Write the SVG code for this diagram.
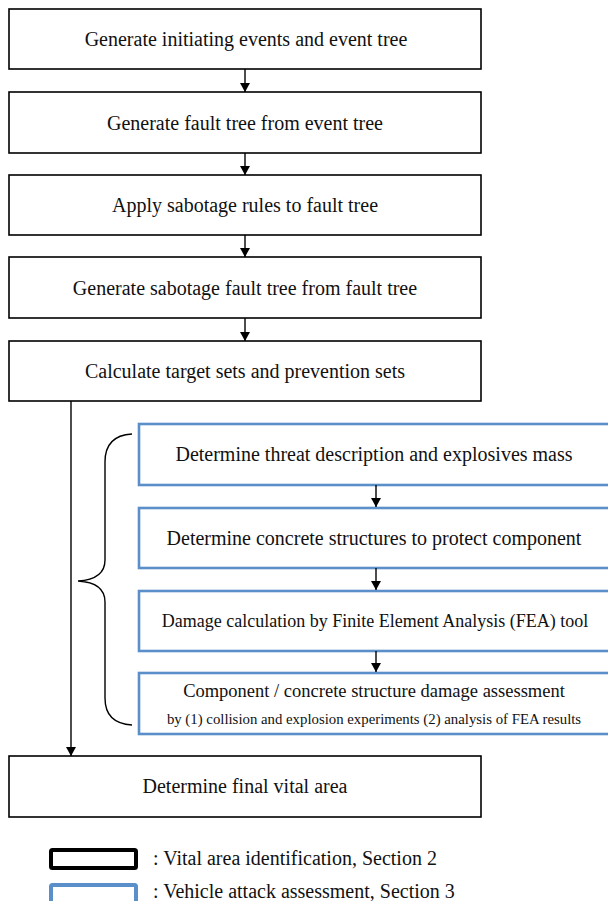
<svg xmlns="http://www.w3.org/2000/svg" width="608" height="901" viewBox="0 0 608 901">
<defs>
<marker id="arr" markerWidth="10" markerHeight="10" refX="9" refY="5" orient="auto" markerUnits="userSpaceOnUse" viewBox="0 0 10 10">
<path d="M0,0 L9,5 L0,10 Z" fill="#000"/>
</marker>
<style>
.b{fill:#fff;stroke:#000;stroke-width:1.6}
.u{fill:#fff;stroke:#5b8fc9;stroke-width:2.6}
.t{font-family:"Liberation Serif","Times New Roman",serif;fill:#111;text-anchor:middle}
.m{font-size:20px}
.s{text-anchor:start}
.c{stroke:#000;stroke-width:1.4;fill:none}
</style>
</defs>

<g id="n1"><rect class="b" x="9" y="9" width="472" height="60"/><text class="t m" x="246" y="46">Generate initiating  events and event tree</text></g>
<g id="n2"><rect class="b" x="9" y="92" width="472" height="61"/><text class="t m" x="245" y="130">Generate fault tree from event tree</text></g>
<g id="n3"><rect class="b" x="9" y="175" width="472" height="60"/><text class="t m" x="245" y="212">Apply sabotage rules to fault tree</text></g>
<g id="n4"><rect class="b" x="9" y="257" width="472" height="61"/><text class="t m" x="245" y="295">Generate sabotage fault tree from fault tree</text></g>
<g id="n5"><rect class="b" x="9" y="341" width="472" height="60"/><text class="t m" x="245" y="378">Calculate target sets and prevention sets</text></g>

<g id="v1"><rect class="u" x="139" y="424" width="474" height="61"/><text class="t" font-size="20" x="374" y="461">Determine threat description and explosives mass</text></g>
<g id="v2"><rect class="u" x="139" y="508" width="474" height="60"/><text class="t" font-size="20" x="374" y="545">Determine concrete structures to protect component</text></g>
<g id="v3"><rect class="u" x="139" y="591" width="474" height="60"/><text class="t" font-size="18" x="375" y="627">Damage calculation by Finite Element Analysis (FEA) tool</text></g>
<g id="v4"><rect class="u" x="139" y="673" width="474" height="61"/><text class="t" font-size="18.5" x="374" y="697">Component / concrete structure damage assessment</text><text class="t" font-size="14.8" x="374" y="724">by (1) collision and explosion experiments (2) analysis of FEA results</text></g>

<g id="n6"><rect class="b" x="9" y="756" width="472" height="61"/><text class="t m" x="245" y="793">Determine final vital area</text></g>

<g id="brace"><path class="c" d="M132,434 C114,435 105,445 105,462 L105,560 C105,573 95,580 78,581 C95,582 105,589 105,602 L105,698 C105,715 114,724 132,725"/></g>

<g id="connectors" class="c">
<line x1="245" y1="69" x2="245" y2="92" marker-end="url(#arr)"/>
<line x1="245" y1="153" x2="245" y2="175" marker-end="url(#arr)"/>
<line x1="245" y1="235" x2="245" y2="257" marker-end="url(#arr)"/>
<line x1="245" y1="318" x2="245" y2="341" marker-end="url(#arr)"/>
<line x1="71" y1="401" x2="71" y2="756" marker-end="url(#arr)"/>
<line x1="376" y1="485" x2="376" y2="507" marker-end="url(#arr)"/>
<line x1="376" y1="568" x2="376" y2="590" marker-end="url(#arr)"/>
<line x1="376" y1="651" x2="376" y2="672" marker-end="url(#arr)"/>
</g>

<g id="legend">
<rect x="51" y="850" width="85" height="18" fill="#fff" stroke="#000" stroke-width="4" rx="1.5"/>
<text class="t s" font-size="20" x="153" y="865">: Vital area identification,  Section 2</text>
<rect x="51" y="885" width="85" height="18" fill="#fff" stroke="#5b8fc9" stroke-width="4" rx="1.5"/>
<text class="t s" font-size="20" x="153" y="898">: Vehicle attack assessment, Section 3</text>
</g>
</svg>
